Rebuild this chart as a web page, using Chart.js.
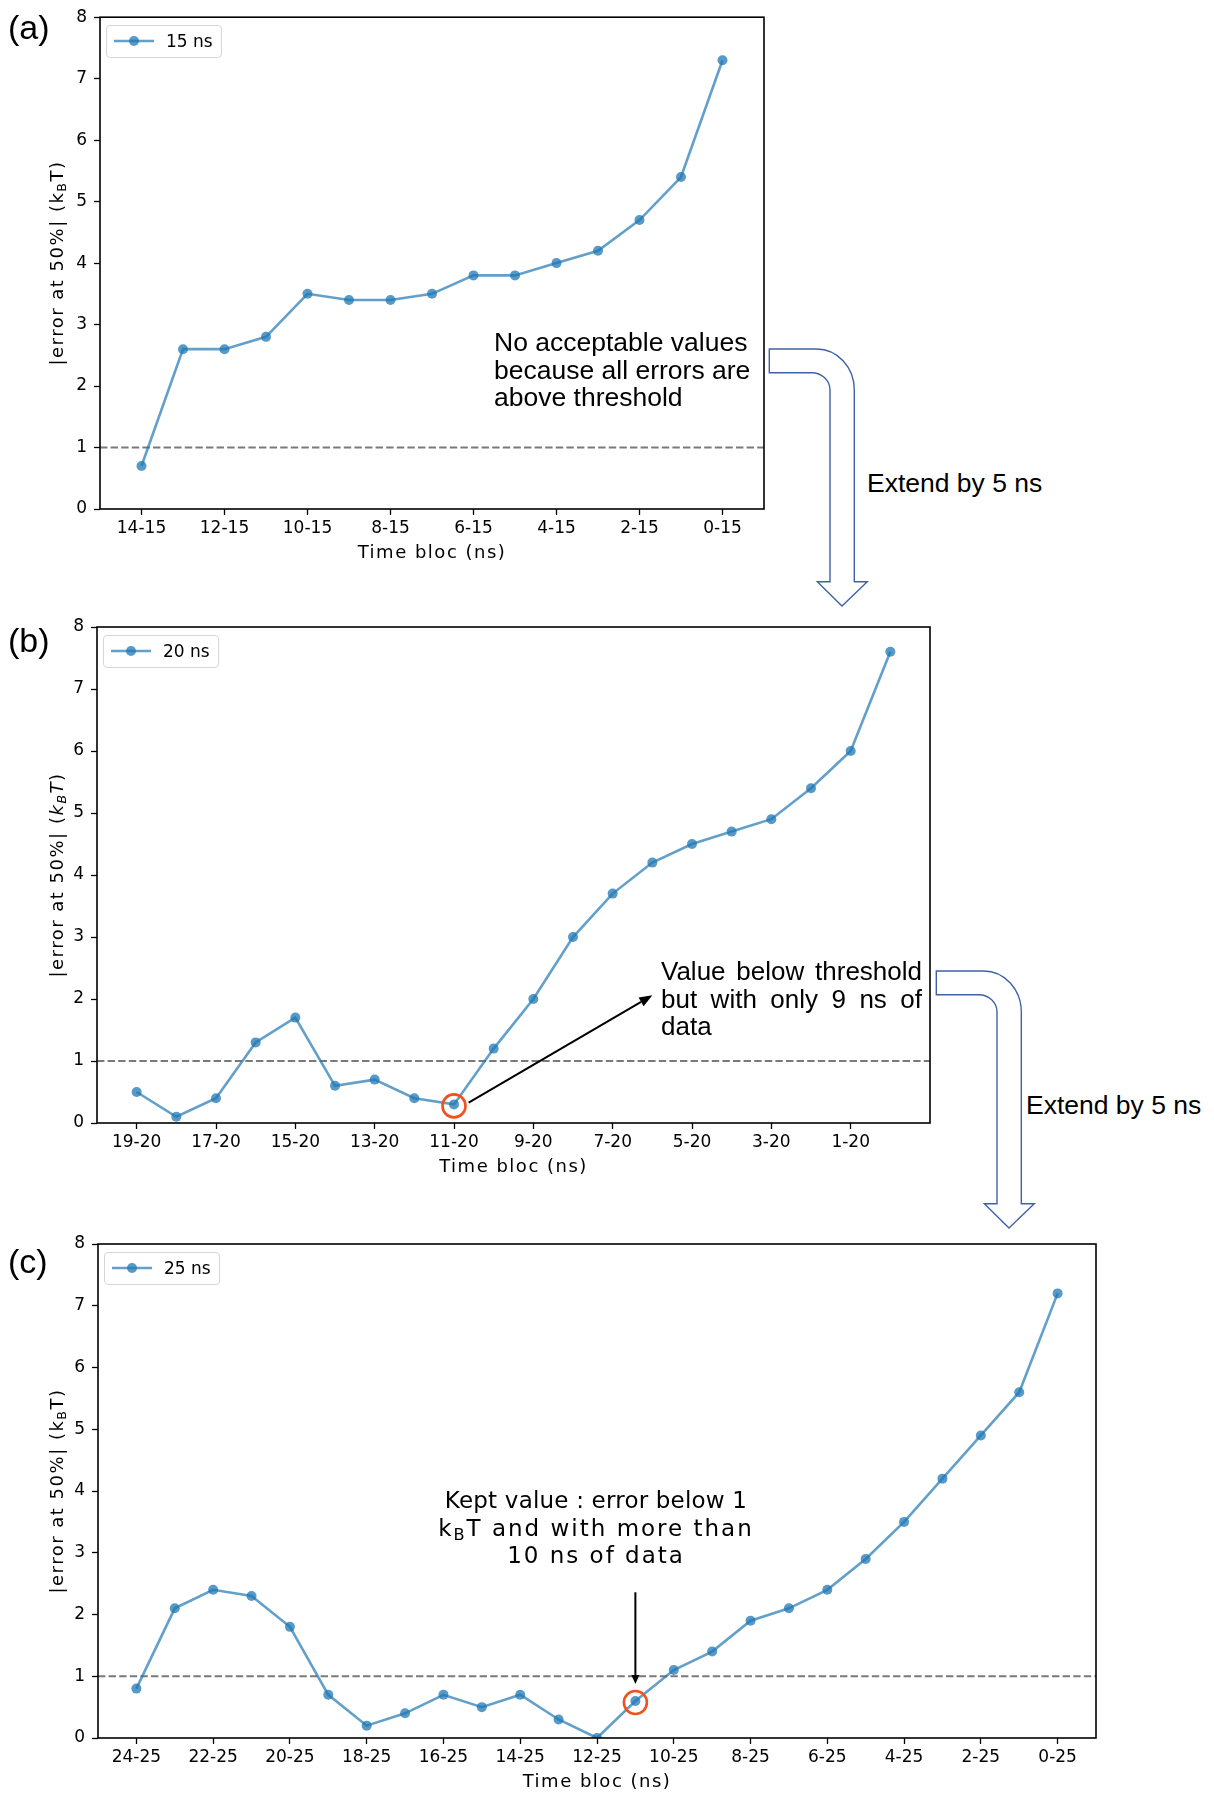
<!DOCTYPE html>
<html><head><meta charset="utf-8">
<script src="https://cdn.jsdelivr.net/npm/chart.js@4.4.1/dist/chart.umd.min.js"></script>
<style>
html,body{margin:0;padding:0;background:#fff;}
#page{position:relative;width:1214px;height:1794px;overflow:hidden;font-family:"DejaVu Sans",sans-serif;color:#000;}
canvas{position:absolute;left:0;}
.lbl{position:absolute;font-family:"Liberation Sans",Arial,sans-serif;color:#000;white-space:nowrap;}
.ytitle{position:absolute;font-family:"DejaVu Sans",sans-serif;font-size:18px;letter-spacing:1.5px;transform:translate(-50%,-50%) rotate(-90deg);white-space:nowrap;line-height:1;}
.xtitle{position:absolute;font-family:"DejaVu Sans",sans-serif;font-size:18px;letter-spacing:1.5px;transform:translate(-50%,-50%);white-space:nowrap;line-height:1;}
sub{font-size:70%;vertical-align:-0.25em;line-height:0;}
.legend{position:absolute;border:1px solid #d6d6d6;border-radius:4px;background:rgba(255,255,255,0.8);box-sizing:border-box;font-family:"DejaVu Sans",sans-serif;font-size:17px;}
.legend svg{position:absolute;left:6px;top:50%;margin-top:-6px;}
.legend span{position:absolute;left:59px;top:50%;transform:translateY(-50%);line-height:1;}
#svgover{position:absolute;left:0;top:0;pointer-events:none;}
</style></head><body><div id="page">
<canvas id="cA" width="800" height="600" style="top:0px"></canvas>
<canvas id="cB" width="960" height="600" style="top:600px"></canvas>
<canvas id="cC" width="1140" height="594" style="top:1200px"></canvas>

<div class="lbl" style="left:8px;top:8px;font-size:34px;">(a)</div>
<div class="lbl" style="left:8px;top:621px;font-size:34px;">(b)</div>
<div class="lbl" style="left:8px;top:1242px;font-size:34px;">(c)</div>

<div class="lbl" style="left:494px;top:329px;font-size:26.5px;line-height:27.5px;">No acceptable values<br>because all errors are<br>above threshold</div>
<div class="lbl" style="left:661px;top:958px;width:261px;font-size:26px;line-height:27.5px;white-space:normal;text-align:justify;">Value below threshold but with only 9 ns of data</div>
<div class="lbl" style="left:596px;top:1487px;transform:translateX(-50%);font-family:'DejaVu Sans',sans-serif;font-size:23px;line-height:27.5px;text-align:center;"><span style="letter-spacing:0.2px">Kept value : error below 1</span><br><span style="letter-spacing:2px">k<sub>B</sub>T and with more than</span><br><span style="letter-spacing:2px">10 ns of data</span></div>

<div class="lbl" style="left:867px;top:468px;font-size:26.5px;line-height:30px;">Extend by 5 ns</div>
<div class="lbl" style="left:1026px;top:1090px;font-size:26.5px;line-height:30px;">Extend by 5 ns</div>

<svg id="svgover" width="1214" height="1794" viewBox="0 0 1214 1794">
  <g fill="#fff" stroke="#3f62a6" stroke-width="1.4" stroke-linejoin="miter">
    <path id="uarrow" d="M769.3 349 L816.7 349 A37.6 41 0 0 1 854.3 390 L854.3 581.7 L867.3 581.7 L842 606 L817.3 581.7 L830 581.7 L830 390 A18.3 17.3 0 0 0 811.7 372.7 L769.3 372.7 Z"/>
    <use href="#uarrow" transform="translate(167 622)"/>
  </g>
</svg>
</div>
<script>
// ---------------- data ----------------
const categoriesA = ['14-15','13-15','12-15','11-15','10-15','9-15','8-15','7-15','6-15','5-15','4-15','3-15','2-15','1-15','0-15'];
const valuesA = [0.7, 2.6, 2.6, 2.8, 3.5, 3.4, 3.4, 3.5, 3.8, 3.8, 4.0, 4.2, 4.7, 5.4, 7.3];
const tickLabelsA = ['14-15','12-15','10-15','8-15','6-15','4-15','2-15','0-15'];

const categoriesB = ['19-20','18-20','17-20','16-20','15-20','14-20','13-20','12-20','11-20','10-20','9-20','8-20','7-20','6-20','5-20','4-20','3-20','2-20','1-20','0-20'];
const valuesB = [0.5, 0.1, 0.4, 1.3, 1.7, 0.6, 0.7, 0.4, 0.3, 1.2, 2.0, 3.0, 3.7, 4.2, 4.5, 4.7, 4.9, 5.4, 6.0, 7.6];
const tickLabelsB = ['19-20','17-20','15-20','13-20','11-20','9-20','7-20','5-20','3-20','1-20'];

const categoriesC = ['24-25','23-25','22-25','21-25','20-25','19-25','18-25','17-25','16-25','15-25','14-25','13-25','12-25','11-25','10-25','9-25','8-25','7-25','6-25','5-25','4-25','3-25','2-25','1-25','0-25'];
const valuesC = [0.8, 2.1, 2.4, 2.3, 1.8, 0.7, 0.2, 0.4, 0.7, 0.5, 0.7, 0.3, 0.0, 0.6, 1.1, 1.4, 1.9, 2.1, 2.4, 2.9, 3.5, 4.2, 4.9, 5.6, 7.2];
const tickLabelsC = ['24-25','22-25','20-25','18-25','16-25','14-25','12-25','10-25','8-25','6-25','4-25','2-25','0-25'];

const seriesNames = ['15 ns', '20 ns', '25 ns'];
const yTicks = [0, 1, 2, 3, 4, 5, 6, 7, 8];
const threshold = 1;
const keptB = '11-20';   // circled (rejected) value in (b)
const keptC = '11-25';   // circled kept value in (c)

// ---------------- styling ----------------
Chart.defaults.font.family = '"DejaVu Sans", sans-serif';
Chart.defaults.color = '#000';
const LINE = 'rgba(31,119,180,0.7)';
const MARK = 'rgba(31,119,180,0.75)';
const RING = 'rgb(242,80,28)';

function drawArrow(ctx, x1, y1, x2, y2, headLen, headW, lw) {
  const ang = Math.atan2(y2 - y1, x2 - x1);
  const bx = x2 - headLen * Math.cos(ang), by = y2 - headLen * Math.sin(ang);
  ctx.save();
  ctx.strokeStyle = '#000'; ctx.fillStyle = '#000'; ctx.lineWidth = lw;
  ctx.beginPath(); ctx.moveTo(x1, y1); ctx.lineTo(bx, by); ctx.stroke();
  ctx.beginPath();
  ctx.moveTo(x2, y2);
  ctx.lineTo(bx + headW / 2 * Math.sin(ang), by - headW / 2 * Math.cos(ang));
  ctx.lineTo(bx - headW / 2 * Math.sin(ang), by + headW / 2 * Math.cos(ang));
  ctx.closePath(); ctx.fill();
  ctx.restore();
}

const extras = {
  id: 'extras',
  beforeDatasetsDraw(chart) {
    const {ctx, chartArea: a, scales: {y}} = chart;
    const py = y.getPixelForValue(threshold);
    ctx.save();
    ctx.strokeStyle = '#7a7a7a'; ctx.lineWidth = 2; ctx.setLineDash([7.4, 3.2]);
    ctx.beginPath(); ctx.moveTo(a.left, py); ctx.lineTo(a.right, py); ctx.stroke();
    ctx.restore();
  },
  afterDatasetsDraw(chart, args, opts) {
    const {ctx, scales: {x, y}} = chart;
    if (opts.ringIndex !== undefined && opts.ringIndex >= 0) {
      const ds = chart.data.datasets[0].data[opts.ringIndex];
      ctx.save();
      ctx.strokeStyle = RING; ctx.lineWidth = 2.6;
      ctx.beginPath(); ctx.arc(x.getPixelForValue(ds.x), y.getPixelForValue(ds.y) + 1.5, 11.5, 0, Math.PI * 2); ctx.stroke();
      ctx.restore();
    }
    if (opts.arrow) {
      const ar = opts.arrow;
      drawArrow(ctx, x.getPixelForValue(ar.from[0]), y.getPixelForValue(ar.from[1]),
                x.getPixelForValue(ar.to[0]), y.getPixelForValue(ar.to[1]), ar.head, ar.headW, 2);
    }
  },
  afterDraw(chart) {
    const {ctx, chartArea: a} = chart;
    ctx.save();
    ctx.strokeStyle = '#000'; ctx.lineWidth = 1.6;
    ctx.strokeRect(a.left, a.top, a.right - a.left, a.bottom - a.top);
    ctx.restore();
  }
};

function makeChart(id, cats, vals, tickLabels, name, L, extraOpts) {
  const canvas = document.getElementById(id);
  const tickIdx = cats.map((c, i) => tickLabels.includes(c) ? i : -1).filter(i => i >= 0);
  const chart = new Chart(canvas, {
    type: 'line',
    data: {
      datasets: [{
        label: name,
        data: vals.map((v, i) => ({x: i, y: v})),
        borderColor: LINE, backgroundColor: MARK,
        pointBackgroundColor: MARK, pointBorderWidth: 0,
        borderWidth: 2.6, pointRadius: 5, tension: 0
      }]
    },
    options: {
      responsive: false, animation: false, devicePixelRatio: 1,
      layout: {padding: {left: 0, top: L.top, right: L.right, bottom: 0}},
      plugins: {legend: {display: false}, tooltip: {enabled: false}, extras: extraOpts},
      scales: {
        x: {
          type: 'linear', min: -1, max: cats.length,
          afterBuildTicks: s => { s.ticks = tickIdx.map(v => ({value: v})); },
          afterFit: s => { s.height = L.xh; },
          grid: {drawOnChartArea: false, drawTicks: true, tickLength: 6, tickColor: '#000', tickWidth: 1.3},
          border: {display: false},
          ticks: {autoSkip: false, maxRotation: 0, padding: 3, font: {size: 17}, color: '#000',
                  callback: v => cats[v]}
        },
        y: {
          min: 0, max: 8,
          afterBuildTicks: s => { s.ticks = yTicks.map(v => ({value: v})); },
          afterFit: s => { s.width = L.yw; },
          grid: {drawOnChartArea: false, drawTicks: true, tickLength: 6, tickColor: '#000', tickWidth: 1.3},
          border: {display: false},
          ticks: {padding: 7, font: {size: 17}, color: '#000'}
        }
      }
    },
    plugins: [extras]
  });
  return chart;
}

function decorate(chart, offTop, name, yTitleHTML) {
  const a = chart.chartArea;
  const page = document.getElementById('page');
  const lg = document.createElement('div');
  lg.className = 'legend';
  lg.style.left = (a.left + 6) + 'px';
  lg.style.top = (offTop + a.top + 7.5) + 'px';
  lg.style.width = '116px'; lg.style.height = '33px';
  lg.innerHTML = '<svg width="42" height="12"><line x1="1" y1="6" x2="41" y2="6" stroke="' + LINE + '" stroke-width="2.6"/><circle cx="21" cy="6" r="5" fill="' + MARK + '"/></svg><span>' + name + '</span>';
  page.appendChild(lg);
  const yt = document.createElement('div');
  yt.className = 'ytitle';
  yt.style.left = '57px';
  yt.style.top = (offTop + (a.top + a.bottom) / 2) + 'px';
  yt.innerHTML = yTitleHTML;
  page.appendChild(yt);
  const xt = document.createElement('div');
  xt.className = 'xtitle';
  xt.style.left = ((a.left + a.right) / 2) + 'px';
  xt.style.top = (offTop + a.bottom + 43) + 'px';
  xt.textContent = 'Time bloc (ns)';
  page.appendChild(xt);
}

const chA = makeChart('cA', categoriesA, valuesA, tickLabelsA, seriesNames[0],
  {top: 13, right: 36, xh: 91, yw: 100}, {});
const chB = makeChart('cB', categoriesB, valuesB, tickLabelsB, seriesNames[1],
  {top: 27, right: 30, xh: 77, yw: 97},
  {ringIndex: categoriesB.indexOf(keptB), arrow: {from: [8.37, 0.33], to: [13.0, 2.06], head: 13, headW: 10}});
const chC = makeChart('cC', categoriesC, valuesC, tickLabelsC, seriesNames[2],
  {top: 44, right: 44, xh: 56, yw: 98},
  {ringIndex: categoriesC.indexOf(keptC), arrow: {from: [13, 2.36], to: [13, 0.875], head: 9, headW: 8}});

decorate(chA, 0, seriesNames[0], '|error at 50%| (k<sub>B</sub>T)');
decorate(chB, 600, seriesNames[1], '|error at 50%| (<i>k<sub>B</sub>T</i>)');
decorate(chC, 1200, seriesNames[2], '|error at 50%| (k<sub>B</sub>T)');
</script>
</body></html>
